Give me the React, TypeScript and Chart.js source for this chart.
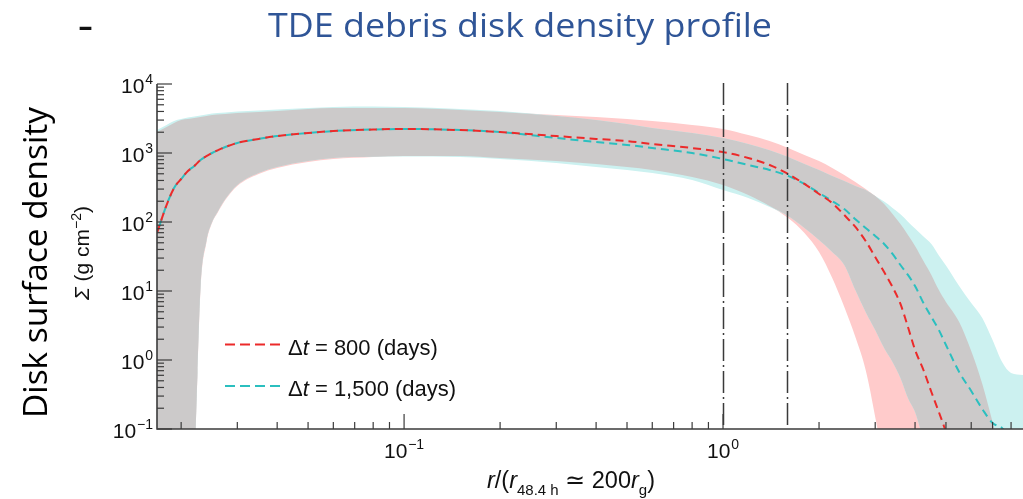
import { useEffect, useRef } from 'react';
import { Chart, registerables } from 'chart.js';

Chart.register(...registerables);

// Radius in units of r_48.4h (~200 r_g)
const radius = [
  0.0168, 0.018, 0.019, 0.02, 0.021, 0.022, 0.0225, 0.023, 0.024, 0.025,
  0.026, 0.0275, 0.03, 0.035, 0.04, 0.05, 0.06, 0.08, 0.1, 0.15,
  0.2, 0.3, 0.4, 0.5, 0.6, 0.8, 1.0, 1.2, 1.4, 1.6,
  1.8, 2.0, 2.2, 2.4, 2.6, 2.8, 3.0, 3.2, 3.4, 3.6,
  3.8, 4.0, 4.25, 4.5, 4.75, 5.0, 5.5, 6.0, 6.5, 7.0,
  7.5, 8.0, 8.72,
];

// Surface density (g cm^-2), dt = 800 days: spread envelope and median
const sigma800Upper = [
  2010, 2380, 2720, 3010, 3110, 3210, 3270, 3330, 3450, 3560,
  3610, 3670, 3800, 3930, 4060, 4350, 4490, 4490, 4490, 4200,
  3930, 3560, 3330, 3110, 2910, 2550, 2230, 1820, 1490, 1180,
  935, 766, 607, 480, 380, 301, 238, 182, 131, 93.5,
  64.9, 44.9, 27.2, 17.1, 10.3, 6.93, 3.56, 1.35, 0.449, 0.126,
  0.0355, 0.0132, 0.005,
];
const sigma800Lower = [
  0.001, 0.001, 0.001, 0.001, 0.001, 0.03, 0.6, 10.3, 50, 96.8,
  135, 208, 333, 497, 607, 741, 818, 875, 906, 906,
  847, 766, 693, 627, 568, 449, 344, 246, 171, 114,
  69.3, 36.7, 15.4, 5.86, 2.15, 0.716, 0.149, 0.025, 0.001, 0.001,
  0.001, 0.001, 0.001, 0.001, 0.001, 0.001, 0.001, 0.001, 0.001, 0.001,
  0.001, 0.001, 0.001,
];
const sigma800Median = [
  69.3, 176, 311, 420, 548, 649, 720, 793, 900, 1000,
  1090, 1220, 1400, 1600, 1760, 1950, 2080, 2190, 2230, 2150,
  2010, 1760, 1600, 1490, 1350, 1180, 1030, 847, 670, 497,
  356, 255, 188, 126, 84.7, 53.1, 31.1, 18.8, 11.4, 6.49,
  3.01, 1.40, 0.716, 0.344, 0.176, 0.091, 0.025, 0.008, 0.003, 0.001,
  0.001, 0.001, 0.001,
];

// Surface density (g cm^-2), dt = 1,500 days: spread envelope and median
const sigma1500Upper = [
  2150, 2550, 2910, 3110, 3270, 3380, 3430, 3490, 3610, 3730,
  3790, 3860, 3990, 4130, 4270, 4490, 4650, 4720, 4650, 4350,
  4060, 3440, 3010, 2630, 2300, 1950, 1650, 1350, 1100, 875,
  693, 568, 465, 393, 333, 291, 238, 198, 160, 129,
  101, 80.5, 61.7, 48.0, 32.7, 23.4, 11.8, 6.70, 4.06, 1.95,
  0.935, 0.649, 0.607,
];
const sigma1500Lower = [
  0.001, 0.001, 0.001, 0.001, 0.001, 0.03, 0.65, 11.2, 53, 100,
  140, 215, 344, 513, 627, 766, 847, 880, 890, 875,
  818, 716, 627, 568, 513, 406, 291, 223, 165, 122,
  81.8, 54.8, 36.7, 23.8, 10.3, 4.97, 2.72, 1.49, 0.935, 0.548,
  0.281, 0.176, 0.069, 0.025, 0.001, 0.001, 0.001, 0.001, 0.001, 0.001,
  0.001, 0.001, 0.001,
];
const sigma1500Median = [
  69.3, 176, 311, 420, 548, 649, 720, 793, 900, 1000,
  1090, 1220, 1400, 1600, 1760, 1950, 2080, 2190, 2230, 2150,
  2010, 1650, 1440, 1310, 1180, 1000, 818, 670, 568, 465,
  356, 263, 201, 154, 110, 81.8, 62.7, 48.0, 34.4, 23.8,
  17.1, 11.8, 6.70, 4.20, 2.72, 1.65, 0.670, 0.356, 0.195, 0.122,
  0.103, 0.069, 0.042,
];

// Dash-dot reference radii
const markerRadii = [1.0, 1.585];

// Axis decades and labels
const xTickExponents = [-1, 0];
const yTickExponents = [-1, 0, 1, 2, 3, 4];
const seriesDays = ['800', '1,500'];

const TITLE = 'TDE debris disk density profile';
const Y_TITLE = 'Disk surface density';

const RED = '#ec2a2a';
const TEAL = '#2bbfbf';
const PINK_BAND = 'rgb(255,203,203)';
const TEAL_BAND = 'rgb(204,241,240)';
const GREY_BAND = 'rgb(204,202,202)';
const AXIS = '#3b3b3b';
const NONE = 'rgba(0,0,0,0)';

const SANS = '"Liberation Sans", Arial, Helvetica, sans-serif';
const SLIDE = '"Open Sans", "Noto Sans", sans-serif';

const points = (ys: number[]) => radius.map((x, i) => ({ x, y: ys[i] }));

// Region where both envelopes overlap
const overlapUpper = sigma800Upper.map((v, i) => Math.min(v, sigma1500Upper[i]));
const overlapLower = sigma800Lower.map((v, i) => Math.max(v, sigma1500Lower[i]));

type Piece = { t: string; italic?: boolean; shift?: number; size?: number };

function drawPieces(ctx: CanvasRenderingContext2D, pieces: Piece[], x: number, y: number, size: number, align: 'left' | 'center' | 'right') {
  const fontOf = (p: Piece) => `${p.italic ? 'italic ' : ''}${p.size ?? size}px ${SANS}`;
  let total = 0;
  const widths = pieces.map((p) => {
    ctx.font = fontOf(p);
    const w = ctx.measureText(p.t).width;
    total += w;
    return w;
  });
  let cx = align === 'left' ? x : align === 'center' ? x - total / 2 : x - total;
  ctx.textAlign = 'left';
  ctx.textBaseline = 'alphabetic';
  pieces.forEach((p, i) => {
    ctx.font = fontOf(p);
    ctx.fillText(p.t, cx, y + (p.shift ?? 0));
    cx += widths[i];
  });
}

function powerLabel(exp: number): Piece[] {
  const e = exp < 0 ? '\u2212' + Math.abs(exp) : String(exp);
  return [{ t: '10' }, { t: ' ', size: 3 }, { t: e, size: 14, shift: -9 }];
}

function fitText(ctx: CanvasRenderingContext2D, text: string, width: number) {
  const w = ctx.measureText(text).width;
  ctx.scale(width / w, 1);
  ctx.textAlign = 'center';
  ctx.fillText(text, 0, 0);
}

const decorations = {
  id: 'decorations',
  afterDatasetsDraw(chart: any) {
    const { ctx, chartArea: a, scales } = chart;
    const xs = scales.x;
    const ys = scales.y;
    ctx.save();

    // dash-dot reference lines
    ctx.strokeStyle = '#3a3a3a';
    ctx.lineWidth = 1.5;
    ctx.setLineDash([22, 4, 2, 4]);
    markerRadii.forEach((r) => {
      const px = Math.round(xs.getPixelForValue(r)) + 0.5;
      ctx.beginPath();
      ctx.moveTo(px, a.top - 1);
      ctx.lineTo(px, a.bottom);
      ctx.stroke();
    });
    ctx.setLineDash([]);

    // axis lines
    ctx.strokeStyle = AXIS;
    ctx.lineWidth = 1.6;
    ctx.beginPath();
    ctx.moveTo(a.left, a.top);
    ctx.lineTo(a.left, a.bottom);
    ctx.lineTo(a.right, a.bottom);
    ctx.stroke();

    // inward ticks
    ctx.lineWidth = 1.2;
    const yMajor = yTickExponents.map((e) => Math.pow(10, e));
    yMajor.forEach((d, i) => {
      const py = ys.getPixelForValue(d);
      ctx.beginPath();
      ctx.moveTo(a.left, py);
      ctx.lineTo(a.left + 15, py);
      ctx.stroke();
      if (i < yMajor.length - 1) {
        for (let k = 2; k <= 9; k++) {
          const p = ys.getPixelForValue(k * d);
          ctx.beginPath();
          ctx.moveTo(a.left, p);
          ctx.lineTo(a.left + 7, p);
          ctx.stroke();
        }
      }
    });
    for (let e = -2; e <= 0; e++) {
      const d = Math.pow(10, e);
      for (let k = 1; k <= 9; k++) {
        const v = k * d;
        if (v < xs.min || v > xs.max) continue;
        const px = xs.getPixelForValue(v);
        const len = k === 1 ? 15 : 7;
        ctx.beginPath();
        ctx.moveTo(px, a.bottom);
        ctx.lineTo(px, a.bottom - len);
        ctx.stroke();
      }
    }
    ctx.restore();
  },
  afterDraw(chart: any) {
    const { ctx, scales } = chart;
    const xs = scales.x;
    const ys = scales.y;
    ctx.save();
    ctx.fillStyle = '#111';

    // tick labels
    yTickExponents.forEach((e) => {
      const py = ys.getPixelForValue(Math.pow(10, e));
      drawPieces(ctx, powerLabel(e), 153, py + 8.5, 21, 'right');
    });
    xTickExponents.forEach((e) => {
      const px = xs.getPixelForValue(Math.pow(10, e));
      drawPieces(ctx, powerLabel(e), px, 458, 21, 'center');
    });

    // x-axis title
    drawPieces(ctx, [
      { t: 'r', italic: true },
      { t: '/(' },
      { t: 'r', italic: true },
      { t: '48.4 h', size: 15, shift: 7 },
      { t: ' \u2243 200' },
      { t: 'r', italic: true },
      { t: 'g', size: 15, shift: 7 },
      { t: ')' },
    ], 487, 488, 23.5, 'left');

    // Sigma axis label
    ctx.save();
    ctx.translate(89, 253);
    ctx.rotate(-Math.PI / 2);
    drawPieces(ctx, [
      { t: '\u03A3', italic: true },
      { t: ' (g cm' },
      { t: '\u22122', size: 14, shift: -8 },
      { t: ')' },
    ], 0, 0, 21, 'center');
    ctx.restore();

    // legend
    const colors = [RED, TEAL];
    const rows = [344.5, 386];
    seriesDays.forEach((d, i) => {
      ctx.strokeStyle = colors[i];
      ctx.lineWidth = 2;
      ctx.setLineDash([10, 5]);
      ctx.beginPath();
      ctx.moveTo(225, rows[i]);
      ctx.lineTo(281, rows[i]);
      ctx.stroke();
      ctx.setLineDash([]);
      ctx.fillStyle = '#111';
      drawPieces(ctx, [
        { t: '\u0394' },
        { t: 't', italic: true },
        { t: ` = ${d} (days)` },
      ], 288, rows[i] + 10, 22, 'left');
    });

    // slide title
    ctx.fillStyle = '#2f5597';
    ctx.font = `33px ${SLIDE}`;
    ctx.textBaseline = 'alphabetic';
    ctx.save();
    ctx.translate(520, 37);
    fitText(ctx, TITLE, 504);
    ctx.restore();

    // slide y title
    ctx.fillStyle = '#000';
    ctx.save();
    ctx.translate(47, 262.5);
    ctx.rotate(-Math.PI / 2);
    ctx.font = `33px ${SLIDE}`;
    fitText(ctx, Y_TITLE, 311);
    ctx.restore();

    // bullet dash
    ctx.fillStyle = '#111';
    ctx.font = `bold 28px ${SLIDE}`;
    ctx.textAlign = 'center';
    ctx.fillText('\u2013', 85.5, 36);

    ctx.restore();
  },
};

export default function App() {
  const canvasRef = useRef<HTMLCanvasElement | null>(null);

  useEffect(() => {
    const canvas = canvasRef.current;
    if (!canvas) return;
    const band = (data: number[], color: string, target: number | false, order: number) => ({
      data: points(data),
      borderColor: NONE,
      borderWidth: 0,
      pointRadius: 0,
      backgroundColor: color,
      fill: target,
      order,
    });
    const chart = new Chart(canvas, {
      type: 'line',
      data: {
        datasets: [
          {
            label: '\u0394t = 800 (days)',
            data: points(sigma800Median),
            borderColor: RED,
            borderWidth: 2,
            borderDash: [8, 5],
            pointRadius: 0,
            fill: false,
            order: 0,
          },
          {
            label: '\u0394t = 1,500 (days)',
            data: points(sigma1500Median),
            borderColor: TEAL,
            borderWidth: 2,
            borderDash: [8, 5],
            borderDashOffset: 6,
            pointRadius: 0,
            fill: false,
            order: 1,
          },
          band(overlapUpper, GREY_BAND, 3, 2),
          band(overlapLower, NONE, false, 3),
          band(sigma1500Upper, TEAL_BAND, 5, 4),
          band(sigma1500Lower, NONE, false, 5),
          band(sigma800Upper, PINK_BAND, 7, 6),
          band(sigma800Lower, NONE, false, 7),
        ] as any,
      },
      options: {
        responsive: false,
        animation: false,
        devicePixelRatio: 1,
        events: [],
        layout: { padding: { left: 157, top: 84, right: 0, bottom: 70 } },
        plugins: { legend: { display: false }, tooltip: { enabled: false } },
        elements: { line: { cubicInterpolationMode: 'monotone' } },
        scales: {
          x: { type: 'logarithmic', min: 0.0168, max: 8.72, display: false },
          y: { type: 'logarithmic', min: 0.1, max: 10000, display: false },
        },
      },
      plugins: [decorations],
    });
    return () => chart.destroy();
  }, []);

  return (
    <div style={{ position: 'fixed', left: 0, top: 0, width: 1023, height: 499, background: '#fff' }}>
      <canvas ref={canvasRef} width={1023} height={499} style={{ display: 'block' }} />
    </div>
  );
}
